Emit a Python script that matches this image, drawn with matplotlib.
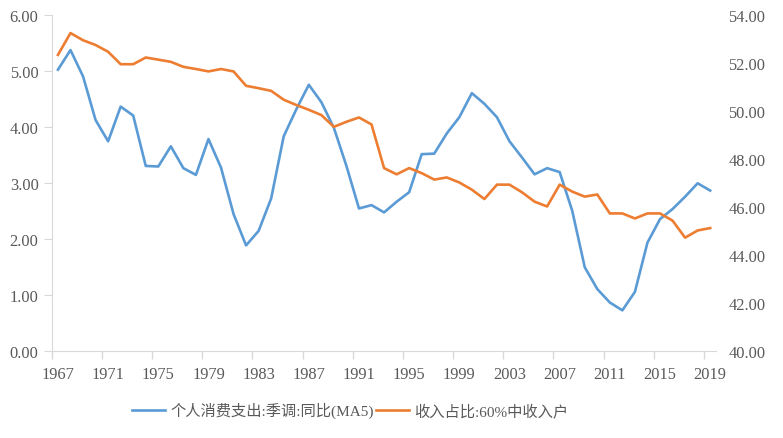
import matplotlib
matplotlib.use("Agg")
import matplotlib.pyplot as plt
import numpy as np
from matplotlib.ticker import FormatStrFormatter, FixedLocator

years = list(range(1967, 2020))

# 个人消费支出:季调:同比(MA5), left axis
pce = [5.02, 5.37, 4.90, 4.12, 3.74, 4.36, 4.20, 3.30, 3.29, 3.65,
       3.26, 3.14, 3.78, 3.27, 2.44, 1.88, 2.14, 2.72, 3.83, 4.31,
       4.75, 4.44, 3.98, 3.30, 2.54, 2.60, 2.47, 2.66, 2.83, 3.51,
       3.52, 3.88, 4.17, 4.60, 4.41, 4.17, 3.74, 3.45, 3.15, 3.26,
       3.19, 2.50, 1.49, 1.10, 0.86, 0.72, 1.05, 1.93, 2.35, 2.53,
       2.75, 2.99, 2.86]

# 收入占比:60%中收入户, right axis
share = [52.33, 53.24, 52.94, 52.74, 52.46, 51.94, 51.94, 52.22, 52.13, 52.04,
         51.83, 51.74, 51.64, 51.74, 51.64, 51.04, 50.94, 50.83, 50.46, 50.24,
         50.04, 49.82, 49.33, 49.54, 49.72, 49.43, 47.61, 47.35, 47.61, 47.40,
         47.13, 47.22, 47.01, 46.71, 46.32, 46.92, 46.92, 46.60, 46.21, 46.01,
         46.92, 46.63, 46.42, 46.51, 45.72, 45.72, 45.51, 45.72, 45.72, 45.42,
         44.71, 45.01, 45.11]

label_years = years[::4]

blue = "#5B9BD5"
orange = "#ED7D31"
txt = "#595959"
axcol = "#D9D9D9"

plt.rcParams['font.family'] = ['Liberation Serif', 'Noto Sans CJK SC', 'DejaVu Sans']

fig = plt.figure(figsize=(7.83, 4.39), dpi=100)
ax = fig.add_axes([0.066, 0.199, 0.849, 0.765])
ax2 = ax.twinx()

l1, = ax.plot(years, pce, color=blue, lw=1.9, label="个人消费支出:季调:同比(MA5)")
l2, = ax2.plot(years, share, color=orange, lw=1.9, label="收入占比:60%中收入户")

ax.set_xlim(1966.5, 2019.5)
ax.set_ylim(0, 6)
ax2.set_ylim(40, 54)
ax.set_yticks(np.arange(0, 6.01, 1))
ax2.set_yticks(np.arange(40, 54.01, 2))
ax.yaxis.set_major_formatter(FormatStrFormatter('%.2f'))
ax2.yaxis.set_major_formatter(FormatStrFormatter('%.2f'))

ax.set_xticks(label_years)
ax.set_xticklabels([str(y) for y in label_years])
ax.xaxis.set_minor_locator(FixedLocator([y - 0.5 for y in label_years]))
ax.tick_params(axis='x', which='major', length=0, pad=11, labelsize=11.8, labelcolor=txt)
ax.tick_params(axis='x', which='minor', length=6, color=axcol, width=1)
ax.tick_params(axis='y', length=6, color=axcol, pad=3.4, labelsize=11.8, labelcolor=txt)
ax2.tick_params(axis='y', length=0, pad=8.5, labelsize=11.8, labelcolor=txt)

for s in ['top', 'right']:
    ax.spines[s].set_visible(False)
for s in ['left', 'bottom']:
    ax.spines[s].set_color(axcol)
for s in ax2.spines.values():
    s.set_visible(False)

fig.legend(handles=[l1, l2], loc='center', bbox_to_anchor=(350 / 783, 1 - 411 / 439),
           ncol=2, frameon=False, fontsize=11, handlelength=2.2, columnspacing=0.15,
           handletextpad=0.3, labelcolor=txt)

fig.savefig("out.png", dpi=100)
